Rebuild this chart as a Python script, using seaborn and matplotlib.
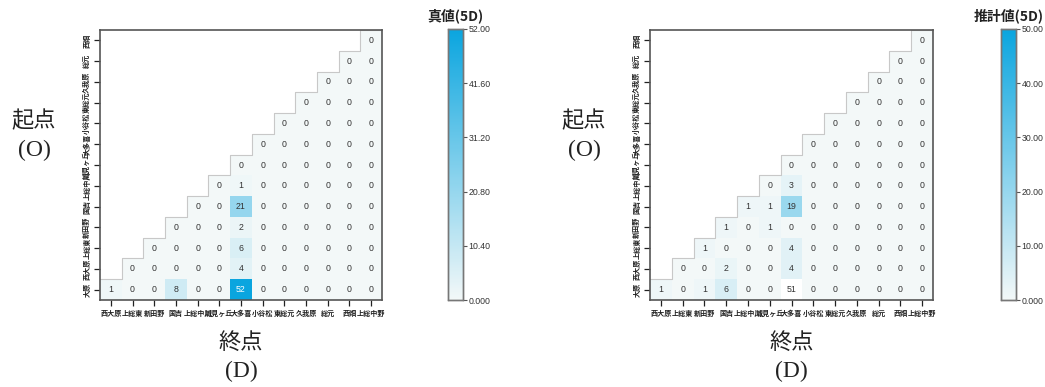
import numpy as np
import matplotlib
matplotlib.use("Agg")
import matplotlib.pyplot as plt
from matplotlib.colors import LinearSegmentedColormap
import seaborn as sns

sns.set_theme(style="white")
plt.rcParams["font.family"] = ["Noto Sans CJK JP", "DejaVu Sans"]

# Origins (rows, bottom to top) and destinations (columns, left to right)
origins = ["大原", "西大原", "上総東", "新田野", "国吉", "上総中川", "城見ヶ丘",
           "大多喜", "小谷松", "東総元", "久我原", "総元", "西畑"]
destinations = ["西大原", "上総東", "新田野", "国吉", "上総中川", "城見ヶ丘", "大多喜",
                "小谷松", "東総元", "久我原", "総元", "西畑", "上総中野"]

# Observed OD trips (5 days); each row lists destinations from the diagonal onward
true_rows = [
    [1, 0, 0, 8, 0, 0, 52, 0, 0, 0, 0, 0, 0],
    [0, 0, 0, 0, 0, 4, 0, 0, 0, 0, 0, 0],
    [0, 0, 0, 0, 6, 0, 0, 0, 0, 0, 0],
    [0, 0, 0, 2, 0, 0, 0, 0, 0, 0],
    [0, 0, 21, 0, 0, 0, 0, 0, 0],
    [0, 1, 0, 0, 0, 0, 0, 0],
    [0, 0, 0, 0, 0, 0, 0],
    [0, 0, 0, 0, 0, 0],
    [0, 0, 0, 0, 0],
    [0, 0, 0, 0],
    [0, 0, 0],
    [0, 0],
    [0],
]

# Estimated OD trips (5 days)
est_rows = [
    [1, 0, 1, 6, 0, 0, 51, 0, 0, 0, 0, 0, 0],
    [0, 0, 2, 0, 0, 4, 0, 0, 0, 0, 0, 0],
    [1, 0, 0, 0, 4, 0, 0, 0, 0, 0, 0],
    [1, 0, 1, 0, 0, 0, 0, 0, 0, 0],
    [1, 1, 19, 0, 0, 0, 0, 0, 0],
    [0, 3, 0, 0, 0, 0, 0, 0],
    [0, 0, 0, 0, 0, 0, 0],
    [0, 0, 0, 0, 0, 0],
    [0, 0, 0, 0, 0],
    [0, 0, 0, 0],
    [0, 0, 0],
    [0, 0],
    [0],
]

true_title = "真値(5D)"
est_title = "推計値(5D)"
true_vmax = 52.0
est_vmax = 50.0


def to_matrix(rows):
    n = len(rows)
    m = np.full((n, n), np.nan)
    for i, r in enumerate(rows):
        m[i, i:] = r
    return m


cmap = LinearSegmentedColormap.from_list("od_blue", ["#f3f8f8", "#0aa5df"])
cmap.set_over("white")

fig = plt.figure(figsize=(10.45, 3.87), dpi=100)
W, H = 1045, 387


def px_axes(x0, y0, x1, y1):
    return fig.add_axes([x0 / W, 1 - y1 / H, (x1 - x0) / W, (y1 - y0) / H])


def cbar_label(v):
    return "0.000" if v == 0 else f"{v:.2f}"


def draw_panel(rows, vmax, title, hx0, hx1, cx0):
    data = to_matrix(rows)
    n = data.shape[0]
    mask = np.isnan(data)
    ax = px_axes(hx0, 30, hx1, 300)
    cax = px_axes(cx0, 29, cx0 + 15, 300)
    sns.heatmap(data, mask=mask, cmap=cmap, vmin=0, vmax=vmax, annot=True, fmt=".0f",
                annot_kws={"fontsize": 6.3, "family": "Liberation Sans"},
                xticklabels=destinations, yticklabels=origins,
                ax=ax, cbar_ax=cax, square=False)
    ax.invert_yaxis()
    for t in ax.texts:
        if t.get_color() not in ("w", "white"):
            t.set_color("#333333")

    # staircase outline along the triangle edge
    sx, sy = [0], [1]
    for i in range(1, n):
        sx += [i, i]
        sy += [i, i + 1]
    ax.plot(sx + [n], sy + [n], color="#c8c8c8", lw=0.8)

    ax.set_xticklabels(destinations, rotation=0, fontsize=5.1, fontweight="bold", color="#222")
    ax.set_yticklabels(origins, rotation=90, va="center", fontsize=5.1, fontweight="bold", color="#222")
    ax.tick_params(axis="both", which="both", length=4, width=0.9, color="#222",
                   bottom=True, left=True, pad=3)
    for s in ax.spines.values():
        s.set_visible(True)
        s.set_color("#555555")
        s.set_linewidth(1.2)
    ax.set_xlim(0, n)
    ax.set_ylim(0, n)

    ticks = np.linspace(0, vmax, 6)
    cax.set_yticks(ticks)
    cax.set_yticklabels([cbar_label(v) for v in ticks], fontsize=6.3,
                        family="Liberation Sans", color="#333")
    cax.tick_params(axis="y", length=3, width=0.8, color="#555", right=True, pad=1)
    for s in cax.spines.values():
        s.set_visible(True)
        s.set_color("#777777")
        s.set_linewidth(1.0)
    fig.text((cx0 + 7.5) / W, 1 - 16 / H, title, ha="center", va="center",
             fontsize=10, fontweight="bold", color="#222")

    xc = (hx0 + hx1) / 2
    label_font = ["Liberation Serif", "Noto Sans CJK JP"]
    fig.text(xc / W, 1 - 344 / H, "終点", ha="center", va="center", fontsize=16,
             family=label_font, color="#222")
    fig.text(xc / W, 1 - 371 / H, "(D)", ha="center", va="center", fontsize=17,
             family=label_font, color="#222")
    lx = hx0 - 66
    fig.text(lx / W, 1 - 121 / H, "起点", ha="center", va="center", fontsize=16,
             family=label_font, color="#222")
    fig.text(lx / W, 1 - 150 / H, "(O)", ha="center", va="center", fontsize=17,
             family=label_font, color="#222")


draw_panel(true_rows, true_vmax, true_title, 100, 382, 448)
draw_panel(est_rows, est_vmax, est_title, 650, 933, 1001)

fig.savefig("out.png", dpi=100)
